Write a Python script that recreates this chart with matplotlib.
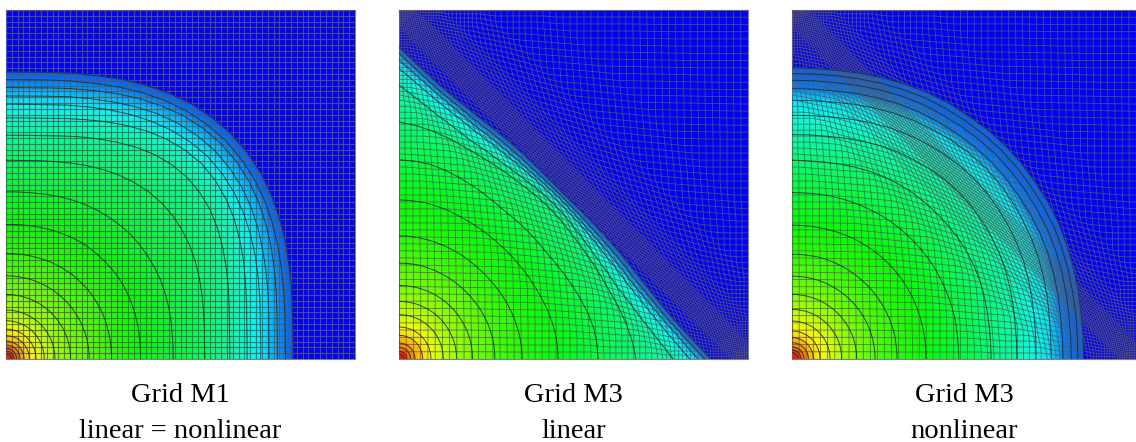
import matplotlib
matplotlib.use('Agg')
import matplotlib.pyplot as plt
import numpy as np

# panel texts
titles = ['Grid M1\nlinear = nonlinear', 'Grid M3\nlinear', 'Grid M3\nnonlinear']

# contour radius (3x px from the lower left corner)
# rows go from the outer front inwards, columns are the angles 0,4.5,..,45 deg
# every panel is mirrored about the diagonal, inner contours are plain circles
m1_outer = [
    [862, 864, 871, 882, 894, 909, 923, 936, 947, 953, 956],
    [839, 841, 848, 858, 870, 884, 898, 911, 921, 927, 930],
    [815, 817, 824, 835, 848, 863, 878, 892, 904, 911, 914],
    [790, 792, 799, 810, 822, 836, 851, 865, 876, 883, 886],
    [765, 767, 773, 784, 796, 810, 824, 837, 848, 855, 858],
    [724, 726, 732, 743, 756, 772, 788, 804, 817, 826, 830],
    [672, 674, 679, 689, 702, 716, 731, 746, 759, 767, 770],
    [597, 598, 603, 610, 619, 629, 639, 648, 655, 660, 662],
    [502, 503, 505, 509, 513, 517, 521, 524, 526, 528, 529],
    [404, 405, 406, 408, 410, 412, 414, 416, 417, 417, 417],
    [317, 317, 318, 318, 319, 320, 321, 321, 322, 322, 322],
]
m1_inner = [250, 194, 147, 115, 90, 70, 54, 42, 32, 24, 17]
m1_values = [.09, .12, .16, .20, .24, .29, .35, .41, .46, .50, .54,
             .58, .62, .66, .70, .74, .78, .82, .86, .90, .94, .97]

m3_lin_outer = [
    [936, 874, 826, 792, 766, 747, 732, 719, 709, 703, 700],
    [918, 858, 811, 778, 751, 733, 718, 706, 697, 692, 691],
    [898, 842, 797, 764, 737, 720, 705, 694, 686, 683, 682],
    [873, 820, 779, 748, 723, 707, 693, 684, 678, 674, 672],
    [823, 778, 741, 714, 691, 678, 667, 661, 658, 658, 658],
    [712, 702, 690, 677, 664, 655, 648, 643, 640, 640, 640],
    [598, 596, 592, 584, 575, 566, 558, 551, 546, 545, 545],
    [478, 477, 476, 473, 470, 466, 463, 461, 459, 458, 458],
    [370, 370, 369, 368, 367, 366, 365, 364, 363, 362, 362],
    [288, 288, 288, 288, 287, 287, 286, 286, 285, 285, 285],
]
m3_lin_inner = [221, 173, 133, 96, 71, 48, 35, 23, 15]
m3_lin_values = [.09, .14, .20, .26, .33, .39, .44, .49, .53, .57,
                 .61, .65, .69, .74, .79, .84, .88, .93, .97]

m3_non_outer = [
    [874, 875, 877, 882, 887, 892, 897, 900, 901, 904, 905],
    [857, 858, 861, 865, 870, 875, 880, 882, 884, 886, 887],
    [837, 838, 840, 845, 850, 855, 859, 861, 863, 865, 866],
    [812, 813, 815, 820, 825, 830, 834, 836, 838, 840, 841],
    [777, 778, 781, 787, 793, 799, 804, 808, 812, 815, 816],
    [732, 733, 736, 741, 747, 753, 758, 762, 765, 768, 769],
    [674, 675, 677, 682, 687, 693, 698, 701, 704, 707, 708],
    [597, 597, 599, 602, 606, 610, 613, 615, 616, 616, 616],
    [500, 500, 501, 503, 504, 505, 506, 507, 508, 508, 508],
    [402, 402, 403, 403, 404, 405, 406, 406, 407, 407, 407],
    [315, 315, 315, 316, 316, 316, 316, 316, 316, 316, 316],
]
m3_non_inner = [249, 194, 149, 114, 84, 64, 49, 36, 27, 19]
m3_non_values = [.10, .10, .11, .13, .22, .27, .33, .39, .45, .50, .54,
                 .58, .62, .67, .72, .76, .80, .84, .88, .92, .96]

# M3 mesh: stretch of the two diagonal coordinates, it turns about s = 1
mesh_s_in = [0, .2, .4, .55, .7, .85, 1.0, 1.15, 1.3, 1.45, 1.6, 1.8, 2.0]
mesh_s_out = [0, .29, .57, .75, .87, .95, 1.0, 1.05, 1.13, 1.25, 1.43, 1.71, 2.0]

# x limit and y limit of the panels, 3x px
xlims = [1048, 1048, 1031]
ylim = 1048
panel_left = [6, 399, 792]
panel_width = [349, 349, 344]
panel_bottom = 359
panel_height = 349


def draw_field(ax, outer, inner, values):
    r = np.array(outer, dtype=float)
    r = np.vstack([r, np.repeat(np.array(inner, dtype=float)[:, None], r.shape[1], axis=1)])
    r = np.hstack([r, r[:, -2::-1]])
    th = np.radians(np.arange(r.shape[1]) * 4.5)
    # inner point at the corner
    r = np.vstack([r, np.zeros(r.shape[1])])
    val = np.array(list(values) + [1.0])
    vv = np.repeat(val[:, None], r.shape[1], axis=1)
    x = r * np.cos(th)
    y = r * np.sin(th)
    ax.pcolormesh(x, y, vv, shading='gouraud', cmap=rainbow, vmin=0, vmax=1, zorder=2)
    for i in range(len(values)):
        ax.plot(x[i], y[i], color='#1c2c2c', lw=0.7, alpha=0.85, zorder=4, solid_joinstyle='round')


def draw_uniform_mesh(ax, n, xmax, ymax):
    for t in np.linspace(0, 1, n + 1):
        ax.plot([t * xmax, t * xmax], [0, ymax], color='#5a5a5a', lw=0.8, alpha=0.85, zorder=3)
        ax.plot([0, xmax], [t * ymax, t * ymax], color='#5a5a5a', lw=0.8, alpha=0.85, zorder=3)


def draw_adapted_mesh(ax, n, xmax, ymax):
    u, v = np.meshgrid(np.linspace(0, 1, n + 1), np.linspace(0, 1, n + 1))
    s = np.interp(u + v, mesh_s_in, mesh_s_out)
    d = np.sign(u - v) * np.interp(np.abs(u - v), mesh_s_in, mesh_s_out)
    x = (s + d) / 2 * xmax
    y = (s - d) / 2 * ymax
    for i in range(n + 1):
        ax.plot(x[i], y[i], color='#5a5a5a', lw=0.6, alpha=0.85, zorder=3)
        ax.plot(x[:, i], y[:, i], color='#5a5a5a', lw=0.6, alpha=0.85, zorder=3)


rainbow = matplotlib.colors.LinearSegmentedColormap.from_list(
    'field', ['#0000ff', '#00ffff', '#00ff00', '#ffff00', '#ff0000'])

fig = plt.figure(figsize=(11.36, 4.42), dpi=100)
W, H = 1136.0, 442.0

fields = [(m1_outer, m1_inner, m1_values),
          (m3_lin_outer, m3_lin_inner, m3_lin_values),
          (m3_non_outer, m3_non_inner, m3_non_values)]

for i in range(3):
    ax = fig.add_axes([panel_left[i] / W, 1 - panel_bottom / H, panel_width[i] / W, panel_height / H])
    ax.set_facecolor('#0000ff')
    ax.set_xlim(0, xlims[i])
    ax.set_ylim(0, ylim)
    ax.set_xticks([])
    ax.set_yticks([])
    for sp in ax.spines.values():
        sp.set_color('#808080')
        sp.set_linewidth(0.8)
    draw_field(ax, fields[i][0], fields[i][1], fields[i][2])
    if i == 0:
        draw_uniform_mesh(ax, 60, xlims[i], ylim)
    else:
        draw_adapted_mesh(ax, 70, xlims[i], ylim)
    ax.set_xlabel(titles[i], family='Liberation Serif', fontsize=20.5, labelpad=17, linespacing=1.6)

fig.savefig('out.png', dpi=100)
